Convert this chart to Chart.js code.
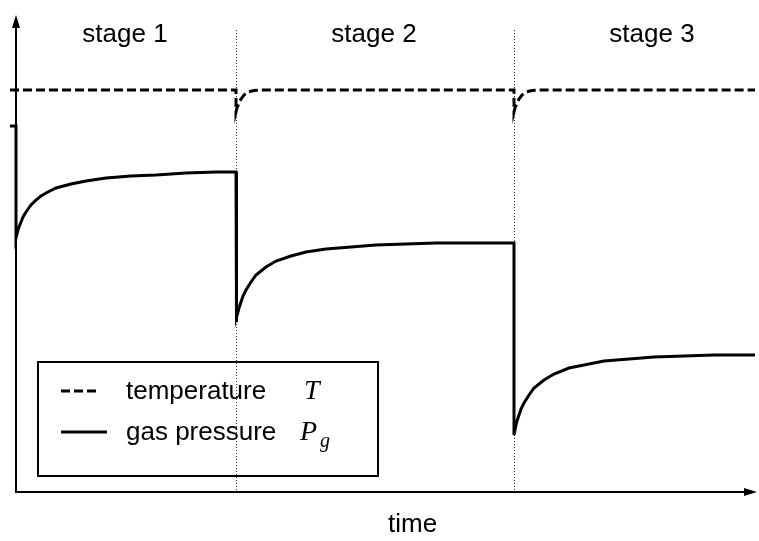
<!DOCTYPE html>
<html>
<head>
<meta charset="utf-8">
<script src="https://cdn.jsdelivr.net/npm/chart.js@4.4.0/dist/chart.umd.min.js"></script>
<style>
  html, body { margin: 0; padding: 0; background: #fff; }
  canvas { display: block; }
</style>
</head>
<body>
<canvas id="stagesChart" width="759" height="541"></canvas>
<script>
// Données (unités arbitraires : temps en x, niveau en y)
const stageLabels = ['stage 1', 'stage 2', 'stage 3'];
const stageBounds = [0, 220, 498, 741]; // début / fin de chaque étape

// Température T (pointillés)
const tempX = [-6, 220, 220, 221, 223, 225, 228, 232, 238, 246, 498, 498, 499, 501, 503, 506, 510, 516, 524, 739];
const tempY = [402, 402, 380, 384, 389, 393, 397, 400, 401.5, 402, 402, 380, 384, 389, 393, 397, 400, 401.5, 402, 402];

// Pression du gaz Pg (trait plein)
const pressX = [-6, 0,
  0, 1, 2, 3, 5, 7, 10, 15, 20, 25, 30, 40, 55, 70, 90, 115, 140, 170, 200, 220,
  220, 221, 222, 223, 225, 227, 230, 235, 240, 245, 250, 260, 275, 290, 310, 335, 360, 390, 420, 498,
  498, 499, 500, 501, 503, 505, 508, 513, 518, 523, 528, 538, 553, 568, 588, 613, 638, 668, 698, 739];
const pressY = [366, 366,
  254, 258, 262, 265, 270, 275, 280, 287, 292, 296, 299, 304, 308, 311, 314, 316, 317, 319, 320, 320,
  170, 175, 180, 184, 190, 196, 202, 210, 217, 221, 225, 231, 236, 240, 243, 245, 247, 248, 249, 249,
  57, 62, 67, 71, 77, 83, 89, 97, 104, 108, 112, 118, 124, 127, 131, 133, 135, 136, 137, 137];

const toPoints = (xs, ys) => xs.map((x, i) => ({ x: x, y: ys[i] }));

// Plugin pour les axes fléchés, les séparations, les textes et la légende
const decorPlugin = {
  id: 'decor',
  beforeDatasetsDraw(chart) {
    const { ctx, scales: { x, y } } = chart;
    ctx.save();
    // lignes pointillées entre les étapes
    ctx.strokeStyle = '#333';
    ctx.lineWidth = 1;
    ctx.setLineDash([1, 2]);
    [stageBounds[1], stageBounds[2]].forEach(b => {
      ctx.beginPath();
      ctx.moveTo(x.getPixelForValue(b) + 0.5, y.getPixelForValue(462));
      ctx.lineTo(x.getPixelForValue(b) + 0.5, y.getPixelForValue(0));
      ctx.stroke();
    });
    ctx.restore();
  },
  afterDraw(chart) {
    const { ctx, scales: { x, y } } = chart;
    const x0 = x.getPixelForValue(0);
    const y0 = y.getPixelForValue(0);
    const yTop = y.getPixelForValue(477);
    const xEnd = x.getPixelForValue(741);
    ctx.save();
    ctx.strokeStyle = '#000';
    ctx.fillStyle = '#000';
    ctx.lineWidth = 2;
    ctx.setLineDash([]);
    // axe vertical
    ctx.beginPath();
    ctx.moveTo(x0, y0 + 1);
    ctx.lineTo(x0, yTop + 10);
    ctx.stroke();
    ctx.beginPath();
    ctx.moveTo(x0, yTop);
    ctx.lineTo(x0 - 4, yTop + 13);
    ctx.lineTo(x0 + 4, yTop + 13);
    ctx.closePath();
    ctx.fill();
    // axe horizontal
    ctx.beginPath();
    ctx.moveTo(x0 - 1, y0);
    ctx.lineTo(xEnd - 10, y0);
    ctx.stroke();
    ctx.beginPath();
    ctx.moveTo(xEnd, y0);
    ctx.lineTo(xEnd - 13, y0 - 4);
    ctx.lineTo(xEnd - 13, y0 + 4);
    ctx.closePath();
    ctx.fill();

    // titres des étapes
    ctx.font = '26px "Liberation Sans", Arial, sans-serif';
    ctx.textAlign = 'center';
    ctx.textBaseline = 'alphabetic';
    const stageCenters = [109, 358, 636];
    stageLabels.forEach((lbl, i) => {
      ctx.fillText(lbl, x.getPixelForValue(stageCenters[i]), 42);
    });
    // titre de l'axe x
    ctx.font = '26px "Liberation Sans", Arial, sans-serif';
    ctx.textAlign = 'left';
    ctx.fillText('time', 388, 532);

    // légende
    ctx.lineWidth = 2;
    ctx.strokeRect(38, 362, 340, 114);
    ctx.lineWidth = 3;
    ctx.setLineDash([9, 4]);
    ctx.beginPath();
    ctx.moveTo(61, 391);
    ctx.lineTo(99, 391);
    ctx.stroke();
    ctx.setLineDash([]);
    ctx.beginPath();
    ctx.moveTo(61, 432);
    ctx.lineTo(107, 432);
    ctx.stroke();
    ctx.font = '26px "Liberation Sans", Arial, sans-serif';
    ctx.fillText(chart.data.datasets[0].label, 126, 399);
    ctx.fillText(chart.data.datasets[1].label, 126, 440);
    ctx.font = 'italic 28px "Liberation Serif", "DejaVu Serif", serif';
    ctx.fillText('T', 304, 399);
    ctx.fillText('P', 300, 440);
    ctx.font = 'italic 20px "Liberation Serif", "DejaVu Serif", serif';
    ctx.fillText('g', 320, 447);
    ctx.restore();
  }
};

const ctx = document.getElementById('stagesChart').getContext('2d');
const stagesChart = new Chart(ctx, {
  type: 'line',
  data: {
    datasets: [
      {
        label: 'temperature',
        data: toPoints(tempX, tempY),
        borderColor: '#000',
        borderWidth: 3,
        borderDash: [9, 4],
        pointRadius: 0,
        tension: 0,
        fill: false,
      },
      {
        label: 'gas pressure',
        data: toPoints(pressX, pressY),
        borderColor: '#000',
        borderWidth: 3,
        pointRadius: 0,
        tension: 0,
        fill: false,
      },
    ],
  },
  options: {
    responsive: false,
    animation: false,
    layout: { padding: 0 },
    plugins: {
      legend: { display: false },
      tooltip: { enabled: false },
    },
    scales: {
      x: { type: 'linear', min: -16, max: 743, display: false },
      y: { type: 'linear', min: -49, max: 492, display: false },
    },
  },
  plugins: [decorPlugin],
});
</script>
</body>
</html>
